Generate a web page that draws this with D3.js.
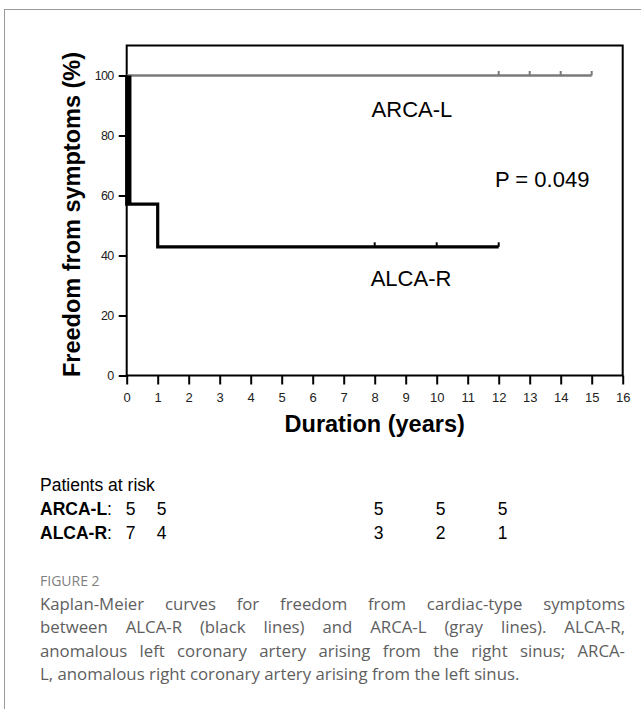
<!DOCTYPE html>
<html>
<head>
<meta charset="utf-8">
<script src="https://cdn.jsdelivr.net/npm/d3@7"></script>
<style>
  body { margin: 0; background: #fff; }
  svg { display: block; }
</style>
</head>
<body>
<script>
let width = 641;
let height = 709;

// data
let xTicks = [0, 1, 2, 3, 4, 5, 6, 7, 8, 9, 10, 11, 12, 13, 14, 15, 16];
let yTicks = [0, 20, 40, 60, 80, 100];

let arcaTimes = [0, 15];
let arcaSurv = [100, 100];
let arcaCensor = [12, 13, 14, 15];

let alcaTimes = [0, 0, 1, 12];
let alcaSurv = [100, 57.1, 42.9, 42.9];
let alcaCensor = [8, 10, 12];

let riskTimes = [0, 1, 8, 10, 12];
let arcaRisk = [5, 5, 5, 5, 5];
let alcaRisk = [7, 4, 3, 2, 1];

let captionLines = [
  "Kaplan-Meier curves for freedom from cardiac-type symptoms",
  "between ALCA-R (black lines) and ARCA-L (gray lines). ALCA-R,",
  "anomalous left coronary artery arising from the right sinus; ARCA-",
  "L, anomalous right coronary artery arising from the left sinus."
];

let svg = d3.select("body").append("svg")
  .attr("width", width)
  .attr("height", height)
  .style("font-family", "'Liberation Sans', Arial, sans-serif");

// outer figure frame (only top and left visible)
svg.append("rect")
  .attr("x", 4.5).attr("y", 9.5)
  .attr("width", 700).attr("height", 760)
  .attr("fill", "none").attr("stroke", "#9a9a9a").attr("stroke-width", 1);

let x = d3.scaleLinear().domain([0, 16]).range([126.7, 622.7]);
let y = d3.scaleLinear().domain([0, 110]).range([375.5, 45.5]);

let plot = svg.append("g");

// box
plot.append("rect")
  .attr("x", x(0)).attr("y", y(110))
  .attr("width", x(16) - x(0)).attr("height", y(0) - y(110))
  .attr("fill", "none").attr("stroke", "#000").attr("stroke-width", 2);

let yAxis = plot.append("g")
  .attr("transform", `translate(${x(0)},0)`)
  .call(d3.axisLeft(y).tickValues(yTicks).tickSize(8).tickPadding(5));
yAxis.select(".domain").remove();
yAxis.selectAll("line").attr("stroke-width", 2);
yAxis.selectAll("text")
  .style("font-family", "'Liberation Sans', Arial, sans-serif")
  .style("font-size", "12.5px")
  .style("letter-spacing", "-0.6px")
  .attr("fill", "#222");

let xAxis = plot.append("g")
  .attr("transform", `translate(0,${y(0)})`)
  .call(d3.axisBottom(x).tickValues(xTicks).tickSize(9).tickPadding(8).tickFormat(d3.format("d")));
xAxis.select(".domain").remove();
xAxis.selectAll("line").attr("stroke-width", 2);
xAxis.selectAll("text")
  .style("font-family", "'Liberation Sans', Arial, sans-serif")
  .style("font-size", "13px")
  .attr("fill", "#222");

// axis titles
svg.append("text")
  .attr("transform", `translate(80,${(y(0) + y(110)) / 2 + 4}) rotate(-90)`)
  .attr("text-anchor", "middle")
  .style("font-size", "23.5px").style("font-weight", "bold")
  .text("Freedom from symptoms (%)");

svg.append("text")
  .attr("x", (x(0) + x(16)) / 2).attr("y", 431.5)
  .attr("text-anchor", "middle")
  .style("font-size", "23.5px").style("font-weight", "bold")
  .text("Duration (years)");

// curves
let stepLine = d3.line().x(d => x(d[0])).y(d => y(d[1])).curve(d3.curveStepAfter);

plot.append("path")
  .datum(d3.zip(arcaTimes, arcaSurv))
  .attr("d", stepLine)
  .attr("fill", "none").attr("stroke", "#7a7a7a").attr("stroke-width", 2.5);

plot.append("path")
  .datum(d3.zip(alcaTimes, alcaSurv))
  .attr("d", stepLine)
  .attr("fill", "none").attr("stroke", "#000").attr("stroke-width", 3.2);

// heavy first drop of ALCA-R
plot.append("line")
  .attr("x1", x(alcaTimes[0]) + 2.5).attr("x2", x(alcaTimes[1]) + 2.5)
  .attr("y1", y(alcaSurv[0])).attr("y2", y(alcaSurv[1]))
  .attr("stroke", "#000").attr("stroke-width", 4.5);

// censor marks
plot.selectAll(".censor-arca").data(arcaCensor).enter().append("line")
  .attr("class", "censor-arca")
  .attr("x1", d => x(d)).attr("x2", d => x(d))
  .attr("y1", y(100)).attr("y2", y(100) - 4.5)
  .attr("stroke", "#7a7a7a").attr("stroke-width", 2);

plot.selectAll(".censor-alca").data(alcaCensor).enter().append("line")
  .attr("class", "censor-alca")
  .attr("x1", d => x(d)).attr("x2", d => x(d))
  .attr("y1", y(42.9)).attr("y2", y(42.9) - 4.5)
  .attr("stroke", "#000").attr("stroke-width", 2);

// in-plot labels
let labels = [
  {text: "ARCA-L", t: 7.9, s: 86.1},
  {text: "P = 0.049", t: 11.88, s: 62.7},
  {text: "ALCA-R", t: 7.87, s: 29.8}
];
plot.selectAll(".lab").data(labels).enter().append("text")
  .attr("class", "lab")
  .attr("x", d => x(d.t)).attr("y", d => y(d.s))
  .style("font-size", "22px")
  .text(d => d.text);

// patients at risk table
svg.append("text")
  .attr("x", 40).attr("y", 490.7)
  .style("font-size", "17.5px")
  .text("Patients at risk");

let riskRows = [
  {name: "ARCA-L", values: arcaRisk, yy: 515},
  {name: "ALCA-R", values: alcaRisk, yy: 538.5}
];
riskRows.forEach(row => {
  let t = svg.append("text").attr("x", 40).attr("y", row.yy).style("font-size", "17.5px");
  t.append("tspan").style("font-weight", "bold").text(row.name);
  t.append("tspan").text(":");
  svg.selectAll(null).data(row.values).enter().append("text")
    .attr("x", (d, i) => x(riskTimes[i]) - 1)
    .attr("y", row.yy)
    .style("font-size", "17.5px")
    .text(d => d);
});

// caption
svg.append("text")
  .attr("x", 40).attr("y", 586)
  .style("font-family", "'Open Sans', 'Noto Sans', sans-serif")
  .style("font-size", "14px").style("font-weight", 500)
  .attr("fill", "#808080")
  .text("FIGURE 2");

let capLeft = 40, capRight = 625, capSize = 16.8;
captionLines.forEach((line, li) => {
  let yy = 609.5 + li * 23.5;
  let g = svg.append("g");
  let words = line.split(" ");
  let nodes = words.map(w => g.append("text")
    .attr("y", yy)
    .style("font-family", "'Open Sans', 'Noto Sans', sans-serif")
    .style("font-size", capSize + "px")
    .attr("fill", "#5e5e5e")
    .text(w));
  let widths = nodes.map(n => n.node().getComputedTextLength());
  let total = d3.sum(widths);
  let last = li === captionLines.length - 1;
  let gap = last ? capSize * 0.26 : (capRight - capLeft - total) / (words.length - 1);
  let cx = capLeft;
  nodes.forEach((n, i) => {
    n.attr("x", cx);
    cx += widths[i] + gap;
  });
});
</script>
</body>
</html>
